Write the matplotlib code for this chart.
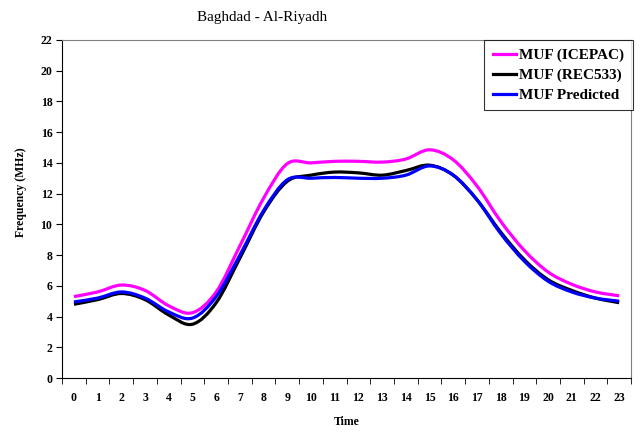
import numpy as np
import matplotlib
matplotlib.use("Agg")
import matplotlib.pyplot as plt
from matplotlib.path import Path
from matplotlib.patches import PathPatch
from matplotlib.lines import Line2D

plt.rcParams['font.family'] = ['Liberation Serif', 'DejaVu Serif']

hours = list(range(24))
muf_icepac = [5.3, 5.6, 6.05, 5.7, 4.7, 4.25, 5.6, 8.6, 11.7, 13.95, 14.0, 14.1,
              14.1, 14.05, 14.25, 14.85, 14.2, 12.5, 10.2, 8.3, 6.9, 6.1, 5.6, 5.35]
muf_rec533 = [4.8, 5.1, 5.5, 5.1, 4.1, 3.5, 4.9, 7.8, 10.8, 12.8, 13.2, 13.4,
              13.35, 13.2, 13.5, 13.85, 13.2, 11.6, 9.5, 7.7, 6.4, 5.7, 5.2, 4.9]
muf_pred = [4.95, 5.2, 5.6, 5.2, 4.3, 3.9, 5.3, 8.0, 10.9, 12.9, 13.0, 13.05,
            13.0, 13.0, 13.2, 13.8, 13.2, 11.6, 9.4, 7.6, 6.3, 5.6, 5.2, 5.0]
labels = ["MUF (ICEPAC)", "MUF (REC533)", "MUF Predicted"]
colors = ["#FF00FF", "#000000", "#0000FF"]


def smooth_path(x, y):
    # Excel-style smoothed line: cubic bezier through the points
    x = np.asarray(x, float)
    y = np.asarray(y, float)
    verts = [(x[0], y[0])]
    codes = [Path.MOVETO]
    n = len(x)
    for i in range(n - 1):
        p0 = i - 1 if i > 0 else i
        p3 = i + 2 if i + 2 < n else i + 1
        c1 = (x[i] + (x[i + 1] - x[p0]) / 6, y[i] + (y[i + 1] - y[p0]) / 6)
        c2 = (x[i + 1] - (x[p3] - x[i]) / 6, y[i + 1] - (y[p3] - y[i]) / 6)
        verts += [c1, c2, (x[i + 1], y[i + 1])]
        codes += [Path.CURVE4] * 3
    return Path(verts, codes)


fig = plt.figure(figsize=(6.4, 4.34), dpi=100)
ax = fig.add_axes([0.097, 0.129, 0.889, 0.779])

for ys, c in zip([muf_icepac, muf_rec533, muf_pred], colors):
    ax.add_patch(PathPatch(smooth_path(hours, ys), facecolor='none',
                           edgecolor=c, lw=2.3, capstyle='butt'))

ax.set_xlim(-0.5, 23.5)
ax.set_ylim(0, 22)
ax.set_yticks(range(0, 23, 2))
ax.set_xticks(hours)
ax.set_xticks(np.arange(-0.5, 24, 1), minor=True)
ax.tick_params(axis='x', which='major', length=0, pad=10)
ax.tick_params(axis='x', which='minor', length=4, direction='out')
ax.tick_params(axis='y', length=4, direction='out', pad=3)
for lab in ax.get_xticklabels() + ax.get_yticklabels():
    lab.set_fontweight('bold')
    lab.set_fontsize(8.5)

for s in ['top', 'right']:
    ax.spines[s].set_color('#808080')
for s in ['left', 'bottom']:
    ax.spines[s].set_color('black')

ax.set_xlabel("Time", fontsize=8.5, fontweight='bold', labelpad=9)
ax.set_ylabel("Frequency (MHz)", fontsize=8.5, fontweight='bold')
ax.yaxis.set_label_coords(-0.062, 0.551)
fig.text(262 / 640, 1 - 17 / 434, "Baghdad - Al-Riyadh", ha='center', va='center', fontsize=11)

handles = [Line2D([], [], color=c, lw=2.3) for c in colors]
leg = ax.legend(handles, labels, loc='upper right', bbox_to_anchor=(1.003, 1.0),
                prop={'weight': 'bold', 'size': 11}, frameon=True, fancybox=False,
                handlelength=1.5, handletextpad=0.25, borderpad=0.55, labelspacing=0.4,
                borderaxespad=0)
leg.get_frame().set_edgecolor('black')
leg.get_frame().set_linewidth(0.8)

fig.savefig("out.png", dpi=100)
